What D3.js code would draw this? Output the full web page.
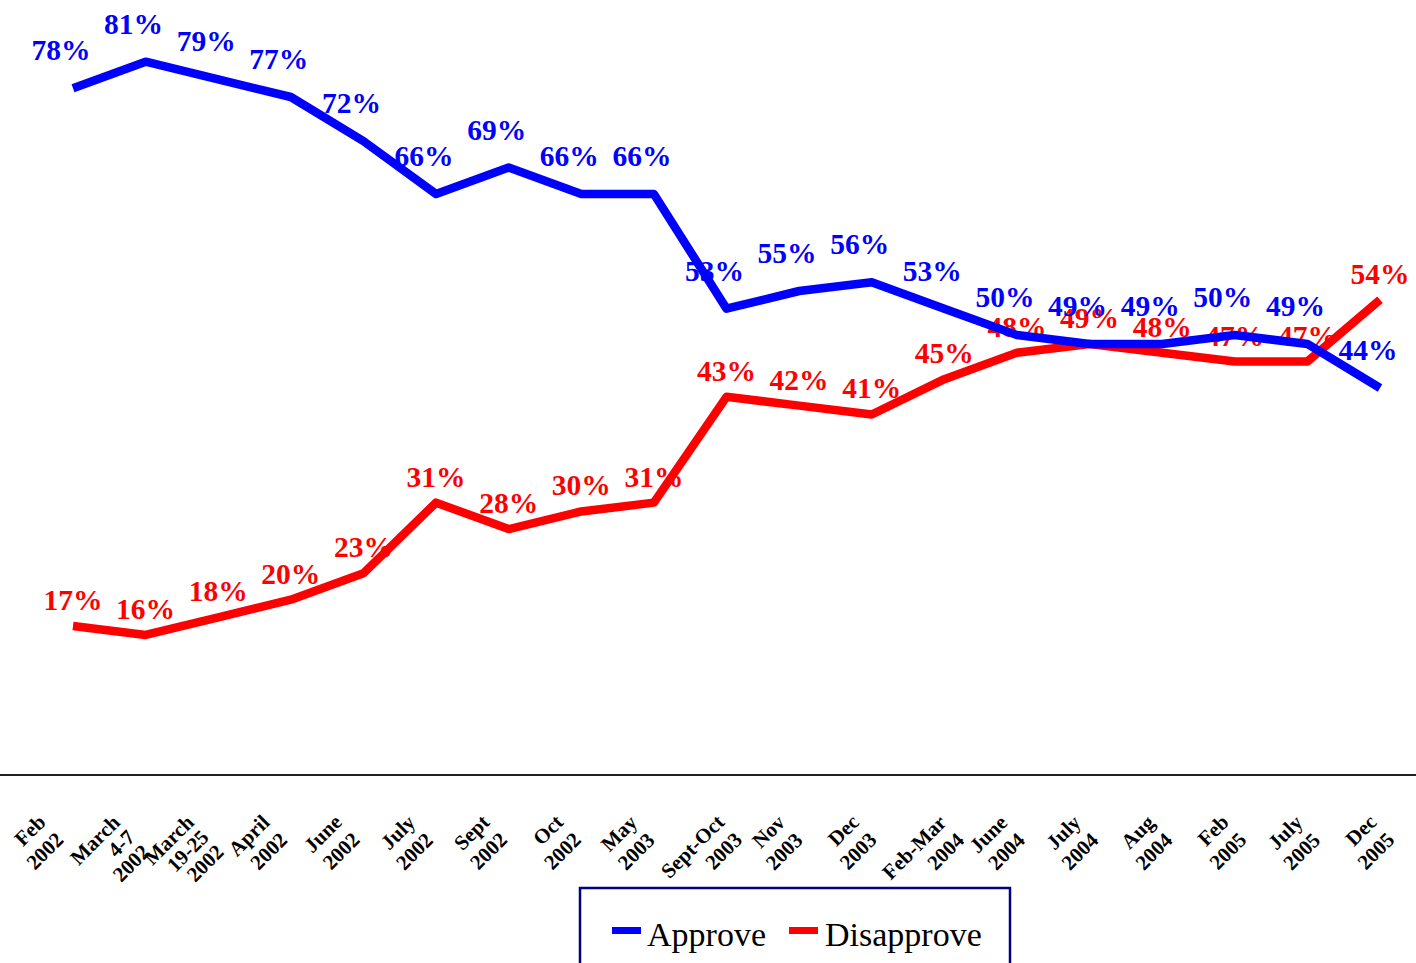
<!DOCTYPE html>
<html>
<head>
<meta charset="utf-8">
<script src="https://cdn.jsdelivr.net/npm/d3@7"></script>
<style>
  html, body { margin: 0; padding: 0; background: #fff; }
  svg { display: block; }
  text { font-family: "Liberation Serif", "Times New Roman", Times, serif; }
</style>
</head>
<body>
<svg id="chart" width="1416" height="963"></svg>
<script>
const categories = [
  "Feb\n2002", "March\n4-7\n2002", "March\n19-25\n2002", "April\n2002",
  "June\n2002", "July\n2002", "Sept\n2002", "Oct\n2002", "May\n2003",
  "Sept-Oct\n2003", "Nov\n2003", "Dec\n2003", "Feb-Mar\n2004", "June\n2004",
  "July\n2004", "Aug\n2004", "Feb\n2005", "July\n2005", "Dec\n2005"
];
const approve    = [78, 81, 79, 77, 72, 66, 69, 66, 66, 53, 55, 56, 53, 50, 49, 49, 50, 49, 44];
const disapprove = [17, 16, 18, 20, 23, 31, 28, 30, 31, 43, 42, 41, 45, 48, 49, 48, 47, 47, 54];
const seriesNames = ["Approve", "Disapprove"];

const W = 1416, H = 963;
const svg = d3.select("#chart");
svg.append("rect").attr("width", W).attr("height", H).attr("fill", "#fff");

const idx = d3.range(categories.length);
const x = d3.scalePoint().domain(idx).range([73, 1380]);
// category label centres (rotated blocks sit slightly left of the points)
const xLabel = d3.scalePoint().domain(idx).range([36, 1367]);
const y = d3.scaleLinear().domain([0, 88]).range([776, 0]);

const series = [
  { name: seriesNames[0], values: approve, color: "#0000FF", dx: -12, dy: -28 },
  { name: seriesNames[1], values: disapprove, color: "#FF0000", dx: 0, dy: -16 }
];

// axis baseline
svg.append("line")
  .attr("x1", 0).attr("x2", W)
  .attr("y1", y(0) - 1).attr("y2", y(0) - 1)
  .attr("stroke", "#222").attr("stroke-width", 2);

// category labels
const labelG = svg.append("g");
categories.forEach((c, i) => {
  const outer = labelG.append("g");
  const inner = outer.append("g").attr("transform", "rotate(-45)");
  const lines = c.split("\n");
  const lh = lines.length > 2 ? 21 : 25;
  lines.forEach((ln, k) => {
    inner.append("text")
      .attr("x", 0).attr("y", k * lh)
      .attr("text-anchor", "end")
      .attr("font-size", 21)
      .attr("font-weight", "bold")
      .attr("fill", "#000")
      .text(ln);
  });
  const bb = outer.node().getBBox();
  const cx = xLabel(i);
  const tx = cx - (bb.x + bb.width / 2);
  const ty = 810 - bb.y;
  outer.attr("transform", `translate(${tx},${ty})`);
});

// data labels (drawn beneath lines)
series.slice().reverse().forEach(s => {
  svg.append("g").selectAll("text")
    .data(s.values)
    .join("text")
    .attr("x", (d, i) => x(i) + s.dx)
    .attr("y", d => y(d) + s.dy)
    .attr("text-anchor", "middle")
    .attr("font-size", 29.5)
    .attr("font-weight", "bold")
    .attr("fill", s.color)
    .text(d => d + "%");
});

// lines: disapprove first, approve on top
const lineGen = d3.line().x((d, i) => x(i)).y(d => y(d));
[series[1], series[0]].forEach(s => {
  svg.append("path")
    .datum(s.values)
    .attr("d", lineGen)
    .attr("fill", "none")
    .attr("stroke", s.color)
    .attr("stroke-width", 8.5)
    .attr("stroke-linejoin", "round");
});

// legend
const lg = svg.append("g");
lg.append("rect")
  .attr("x", 580).attr("y", 888)
  .attr("width", 430).attr("height", 100)
  .attr("fill", "#fff")
  .attr("stroke", "#000080").attr("stroke-width", 2.5);
const legendItems = [
  { name: seriesNames[0], color: "#0000FF", sx: 612, tx: 647 },
  { name: seriesNames[1], color: "#FF0000", sx: 789, tx: 825 }
];
legendItems.forEach(it => {
  lg.append("rect")
    .attr("x", it.sx).attr("y", 927)
    .attr("width", 29).attr("height", 7)
    .attr("fill", it.color);
  lg.append("text")
    .attr("x", it.tx).attr("y", 946)
    .attr("font-size", 34)
    .attr("fill", "#000")
    .text(it.name);
});
</script>
</body>
</html>
